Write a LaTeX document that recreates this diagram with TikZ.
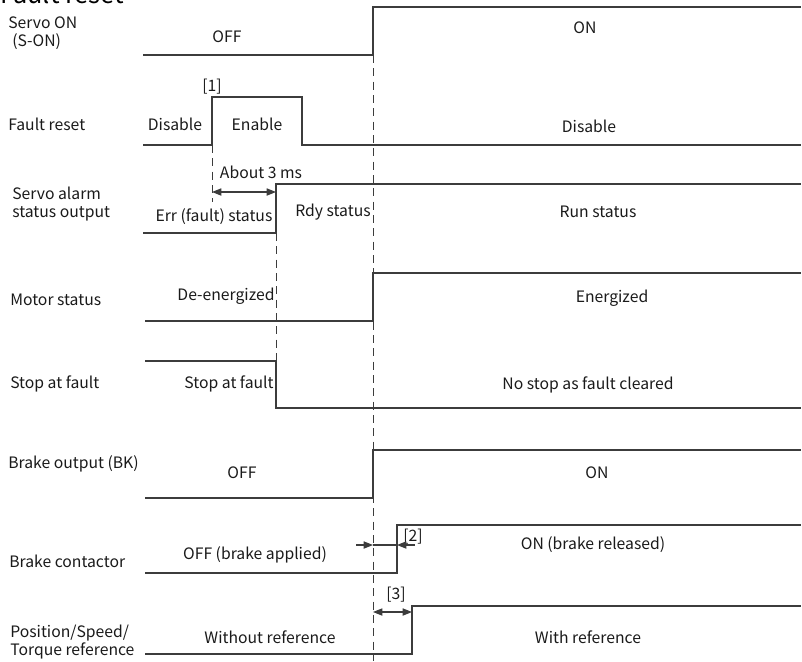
\documentclass[tikz,border=0pt]{standalone}
\usepackage{fontspec}
\setmainfont{Noto Sans CJK SC}
\usetikzlibrary{arrows.meta}
\definecolor{waveGray}{HTML}{3C3C3C}
\definecolor{textBlack}{HTML}{1A1A1A}

\begin{document}
\begin{tikzpicture}[x=0.75pt,y=-0.75pt,
  font=\fontsize{11.8}{13.5}\selectfont,
  sig/.style={draw=waveGray,line width=0.9pt},
  guide/.style={draw=waveGray,line width=0.7pt,dash pattern=on 6pt off 4pt},
  lbl/.style={anchor=west,align=left,inner sep=0pt,text=textBlack},
  val/.style={inner sep=0pt,text=textBlack},
  dimarr/.style={-{Triangle[length=7pt,width=5.4pt]},waveGray,line width=0.8pt},
  dimboth/.style={{Triangle[length=7pt,width=5.4pt]}-{Triangle[length=7pt,width=5.4pt]},waveGray,line width=0.8pt}
]
  \useasboundingbox (0,0) rectangle (802,661);
  \node[anchor=base west,inner sep=0pt,font=\fontsize{19}{20}\selectfont] (title) at (0,3) {Fault reset};

  % signal names
  \node[lbl] (nSon) at (8,33) {Servo ON\\\hspace{3pt}(S-ON)};
  \node[lbl] (nReset) at (8,124) {Fault reset};
  \node[lbl] (nAlarm) at (12,204) {Servo alarm\\status output};
  \node[lbl] (nMotor) at (10,300) {Motor status};
  \node[lbl] (nStop) at (10,384) {Stop at fault};
  \node[lbl] (nBk) at (8,464) {Brake output (BK)};
  \node[lbl] (nCont) at (9,561) {Brake contactor};
  \node[lbl] (nRef) at (10,642) {Position/Speed/\\Torque reference};

  % waveforms
  \draw[sig] (143,55) -- (373,55) -- (373,7) -- (801,7);
  \draw[sig] (143,145) -- (212,145) -- (212,97) -- (302,97) -- (302,145) -- (801,145);
  \draw[sig] (143,233) -- (276,233) -- (276,184) -- (801,184);
  \draw[sig] (145,321) -- (373,321) -- (373,273) -- (801,273);
  \draw[sig] (145,361) -- (276,361) -- (276,408) -- (801,408);
  \draw[sig] (145,498) -- (373,498) -- (373,450) -- (801,450);
  \draw[sig] (145,573) -- (397,573) -- (397,525) -- (801,525);
  \draw[sig] (145,654) -- (412,654) -- (412,606) -- (801,606);

  % timing guides
  \draw[guide] (212,145) -- (212,202);
  \draw[guide] (276,233) -- (276,408);
  \draw[guide] (373,55) -- (373,661);

  % levels
  \node[val] (vSonOff) at (227,37) {OFF};
  \node[val] (vSonOn) at (585,28) {ON};
  \node[val] (vRstDis) at (175,124) {Disable};
  \node[val] (vRstEn) at (257,124) {Enable};
  \node[val] (vRstDis2) at (589,126) {Disable};
  \node[val] (vErr) at (214,217) {Err (fault) status};
  \node[val] (vRdy) at (333,212) {Rdy status};
  \node[val] (vRun) at (598,212) {Run status};
  \node[val] (vDeen) at (226,296) {De-energized};
  \node[val] (vEn) at (612,298) {Energized};
  \node[val] (vStop) at (229,384) {Stop at fault};
  \node[val] (vNoStop) at (588,385) {No stop as fault cleared};
  \node[val] (vBkOff) at (242,473) {OFF};
  \node[val] (vBkOn) at (597,473) {ON};
  \node[val] (vApplied) at (255,555) {OFF (brake applied)};
  \node[val] (vReleased) at (593,545) {ON (brake released)};
  \node[val] (vNoRef) at (270,637) {Without reference};
  \node[val] (vWithRef) at (588,637) {With reference};

  % delays
  \node[val] (n1) at (212,87) {[1]};
  \node[val] (n2) at (413,537) {[2]};
  \node[val] (n3) at (396,595) {[3]};
  \node[val] (vAbout) at (261,172) {About 3 ms};

  \coordinate (a1) at (212,192);
  \coordinate (a2) at (276,192);
  \draw[dimboth] (a1) -- (a2);

  \coordinate (b0) at (356,545);
  \coordinate (b1) at (373,545);
  \coordinate (b2) at (397,545);
  \coordinate (b3) at (415,545);
  \draw[dimarr] (b0) -- (b1);
  \draw[waveGray,line width=0.8pt] (b1) -- (b2);
  \draw[dimarr] (b3) -- (b2);

  \coordinate (c1) at (373,612);
  \coordinate (c2) at (412,612);
  \draw[dimboth] (c1) -- (c2);
\end{tikzpicture}
\end{document}
